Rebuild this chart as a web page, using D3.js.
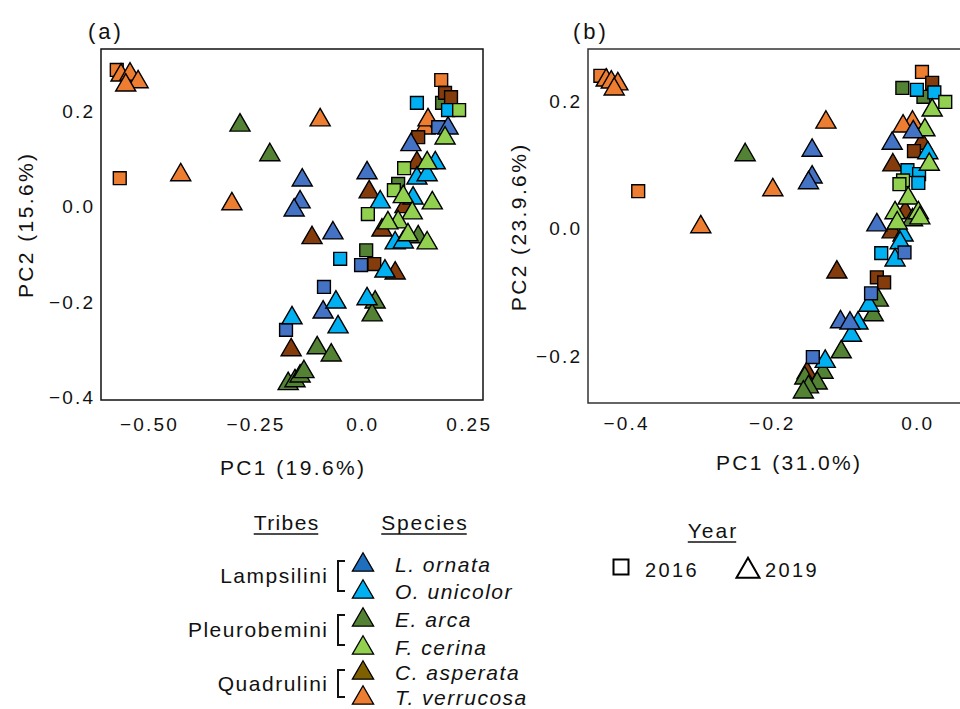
<!DOCTYPE html>
<html>
<head>
<meta charset="utf-8">
<script src="https://cdn.jsdelivr.net/npm/d3@7"></script>
<style>
  body { margin: 0; background: #fff; }
  svg { font-family: "Liberation Sans", Arial, sans-serif; }
</style>
</head>
<body>
<div id="chart"></div>
<script>
// species codes, names and tribes
const speciesCodes = ["LO", "OU", "EA", "FC", "CA", "TV"];
const speciesNames = ["L. ornata", "O. unicolor", "E. arca", "F. cerina", "C. asperata", "T. verrucosa"];
const tribes = ["Lampsilini", "Pleurobemini", "Quadrulini"];
const pointColors = ["#4472C4", "#00B0F0", "#548235", "#92D050", "#843C0C", "#ED7D31"];
const legendColors = ["#1F6FBF", "#00B0F0", "#548235", "#92D050", "#7F6000", "#ED7D31"];
const years = [2016, 2019];

// panel (a): [species, year, PC1, PC2]
const panelA = [
  ["TV",2016,-0.573,0.287],["TV",2019,-0.563,0.276],["TV",2019,-0.542,0.278],["TV",2019,-0.523,0.262],
  ["TV",2019,-0.552,0.255],["TV",2016,-0.566,0.060],["TV",2019,-0.423,0.067],["TV",2019,-0.303,0.006],
  ["TV",2019,-0.096,0.182],["TV",2016,0.188,0.266],["TV",2019,0.150,0.165],["TV",2019,0.157,0.182],
  ["EA",2019,-0.284,0.171],["EA",2019,-0.214,0.109],["EA",2016,0.190,0.218],["EA",2016,0.087,0.048],
  ["EA",2016,0.012,-0.091],["EA",2019,0.134,-0.063],["EA",2019,0.033,-0.200],["EA",2019,0.026,-0.227],
  ["EA",2019,-0.103,-0.296],["EA",2019,-0.070,-0.311],["EA",2019,-0.171,-0.371],["EA",2019,-0.155,-0.365],
  ["EA",2019,-0.143,-0.355],["EA",2019,-0.134,-0.346],
  ["CA",2016,0.197,0.239],["CA",2016,0.211,0.230],["CA",2016,0.134,0.146],["CA",2019,0.131,0.092],
  ["CA",2019,0.019,0.031],["CA",2019,0.103,0.000],["CA",2019,-0.115,-0.065],["CA",2019,0.049,-0.049],
  ["CA",2016,0.031,-0.120],["CA",2019,0.080,-0.139],["CA",2019,-0.164,-0.300],
  ["LO",2016,0.181,0.167],["LO",2019,0.204,0.165],["LO",2019,0.117,0.130],["LO",2019,0.014,0.071],
  ["LO",2019,-0.138,0.056],["LO",2019,-0.143,0.010],["LO",2019,-0.157,-0.007],["LO",2019,-0.066,-0.055],
  ["LO",2016,0.000,-0.122],["LO",2016,-0.087,-0.168],["LO",2019,-0.089,-0.221],["LO",2016,-0.176,-0.258],
  ["OU",2016,0.131,0.218],["OU",2016,0.204,0.203],["OU",2019,0.174,0.092],["OU",2019,0.131,0.060],
  ["OU",2019,0.155,0.067],["OU",2019,0.045,0.010],["OU",2019,0.122,0.018],["OU",2019,0.080,-0.076],
  ["OU",2019,0.099,-0.074],["OU",2016,-0.049,-0.109],["OU",2019,0.056,-0.135],["OU",2019,0.014,-0.193],
  ["OU",2019,-0.059,-0.200],["OU",2019,-0.162,-0.233],["OU",2019,-0.054,-0.252],
  ["FC",2016,0.230,0.203],["FC",2019,0.197,0.144],["FC",2016,0.101,0.081],["FC",2019,0.155,0.092],
  ["FC",2016,0.077,0.035],["FC",2019,0.099,0.021],["FC",2019,0.167,0.008],["FC",2016,0.016,-0.015],
  ["FC",2019,0.120,-0.013],["FC",2019,0.087,-0.032],["FC",2019,0.063,-0.034],["FC",2019,0.110,-0.059],
  ["FC",2019,0.155,-0.076]
];

// panel (b): [species, year, PC1, PC2]
const panelB = [
  ["TV",2016,-0.434,0.240],["TV",2019,-0.426,0.233],["TV",2019,-0.419,0.230],["TV",2019,-0.410,0.227],
  ["TV",2019,-0.415,0.219],["TV",2016,-0.382,0.059],["TV",2019,-0.197,0.061],["TV",2019,-0.296,0.003],
  ["TV",2019,-0.124,0.167],["TV",2016,0.008,0.246],["TV",2019,-0.005,0.167],["TV",2019,-0.018,0.161],
  ["CA",2016,0.022,0.229],["CA",2019,0.008,0.134],["CA",2016,-0.003,0.122],["CA",2019,-0.032,0.100],
  ["CA",2019,-0.015,0.026],["CA",2019,-0.033,-0.005],["CA",2019,-0.109,-0.068],["CA",2016,-0.054,-0.076],
  ["CA",2016,-0.044,-0.084],["CA",2019,-0.150,-0.226],
  ["EA",2016,-0.019,0.221],["EA",2016,0.010,0.207],["EA",2019,-0.235,0.116],["EA",2019,-0.005,0.014],
  ["EA",2019,-0.052,-0.112],["EA",2019,-0.059,-0.135],["EA",2019,-0.103,-0.193],["EA",2019,-0.128,-0.225],
  ["EA",2019,-0.153,-0.234],["EA",2019,-0.136,-0.242],["EA",2019,-0.148,-0.248],["EA",2019,-0.155,-0.256],
  ["OU",2016,0.001,0.218],["OU",2016,0.025,0.214],["OU",2019,0.016,0.119],["OU",2016,-0.012,0.092],
  ["OU",2016,0.004,0.086],["OU",2016,0.003,0.072],["OU",2019,-0.018,-0.010],["OU",2019,-0.022,-0.022],
  ["OU",2016,-0.048,-0.038],["OU",2019,-0.029,-0.049],["OU",2019,-0.065,-0.120],["OU",2019,-0.080,-0.148],
  ["OU",2019,-0.089,-0.167],["OU",2019,-0.125,-0.208],
  ["FC",2016,0.040,0.199],["FC",2019,0.022,0.186],["FC",2019,0.012,0.155],["FC",2019,0.018,0.101],
  ["FC",2016,-0.018,0.076],["FC",2016,-0.023,0.070],["FC",2019,-0.011,0.048],["FC",2019,-0.029,0.025],
  ["FC",2019,0.003,0.025],["FC",2019,0.005,0.017],["FC",2019,-0.026,0.009],
  ["LO",2019,-0.004,0.152],["LO",2019,-0.143,0.123],["LO",2019,-0.033,0.134],["LO",2019,-0.143,0.081],
  ["LO",2019,-0.148,0.072],["LO",2019,-0.054,0.006],["LO",2016,-0.016,-0.037],["LO",2016,-0.062,-0.101],
  ["LO",2019,-0.104,-0.146],["LO",2019,-0.091,-0.148],["LO",2016,-0.142,-0.201]
];

// axis ticks
const ticksAx = [-0.5, -0.25, 0, 0.25];
const ticksAxLabels = ["\u22120.50", "\u22120.25", "0.0", "0.25"];
const ticksAy = [0.2, 0, -0.2, -0.4];
const ticksAyLabels = ["0.2", "0.0", "\u22120.2", "\u22120.4"];
const ticksBx = [-0.4, -0.2, 0];
const ticksBxLabels = ["\u22120.4", "\u22120.2", "0.0"];
const ticksBy = [0.2, 0, -0.2];
const ticksByLabels = ["0.2", "0.0", "\u22120.2"];

const W = 960, H = 709;
const svg = d3.select("#chart").append("svg").attr("width", W).attr("height", H);

const color = d3.scaleOrdinal().domain(speciesCodes).range(pointColors);
const triangle = d3.symbol().type(d3.symbolTriangle).size(175);
const square = d3.symbol().type(d3.symbolSquare).size(165);

const TICK_LS = 2.2, TITLE_LS = 2.4, LEG_LS = 1.5;

function drawPanel(opt) {
  const x = d3.scaleLinear().domain(opt.xDomain).range([opt.left, opt.right]);
  const y = d3.scaleLinear().domain(opt.yDomain).range([opt.bottom, opt.top]);
  const g = svg.append("g");

  const clipId = "clip" + opt.id;
  g.append("clipPath").attr("id", clipId)
    .append("rect")
    .attr("x", opt.left).attr("y", opt.top)
    .attr("width", opt.right - opt.left).attr("height", opt.bottom - opt.top);

  const pts = g.append("g").attr("clip-path", `url(#${clipId})`);
  pts.selectAll("path")
    .data(opt.data)
    .join("path")
    .attr("transform", d => `translate(${x(d[2])},${y(d[3])})`)
    .attr("d", d => d[1] === 2016 ? square() : triangle())
    .attr("fill", d => color(d[0]))
    .attr("stroke", "#000")
    .attr("stroke-width", 1.4);

  // frame
  if (opt.fullBox) {
    g.append("rect")
      .attr("x", opt.left).attr("y", opt.top)
      .attr("width", opt.right - opt.left).attr("height", opt.bottom - opt.top)
      .attr("fill", "none").attr("stroke", "#111").attr("stroke-width", 1.5);
  } else {
    g.append("path")
      .attr("d", `M${opt.right},${opt.top}H${opt.left}V${opt.bottom}H${opt.right}`)
      .attr("fill", "none").attr("stroke", "#333").attr("stroke-width", 1.5);
  }

  const xAxis = d3.axisBottom(x).tickValues(opt.xTicks)
    .tickFormat((d, i) => opt.xLabels[i]).tickSize(0).tickPadding(opt.xPad);
  g.append("g").attr("transform", `translate(0,${opt.bottom})`).call(xAxis)
    .call(s => s.select(".domain").remove())
    .selectAll("text").attr("font-size", 19).attr("fill", "#111").attr("font-family", null)
    .attr("letter-spacing", TICK_LS).attr("dx", TICK_LS / 2);

  const yAxis = d3.axisLeft(y).tickValues(opt.yTicks)
    .tickFormat((d, i) => opt.yLabels[i]).tickSize(0).tickPadding(8);
  g.append("g").attr("transform", `translate(${opt.left},0)`).call(yAxis)
    .call(s => s.select(".domain").remove())
    .selectAll("text").attr("font-size", 19).attr("fill", "#111").attr("font-family", null)
    .attr("letter-spacing", TICK_LS).attr("dx", TICK_LS);

  g.append("text")
    .attr("x", opt.xTitlePos[0] + TITLE_LS / 2).attr("y", opt.xTitlePos[1])
    .attr("text-anchor", "middle").attr("font-size", 21).attr("fill", "#111")
    .attr("letter-spacing", TITLE_LS)
    .text(opt.xTitle);
  g.append("text")
    .attr("transform", `translate(${opt.yTitlePos[0]},${opt.yTitlePos[1] - TITLE_LS / 2}) rotate(-90)`)
    .attr("text-anchor", "middle").attr("dominant-baseline", "middle")
    .attr("font-size", 21).attr("fill", "#111").attr("letter-spacing", TITLE_LS)
    .text(opt.yTitle);
  g.append("text")
    .attr("x", opt.labelPos[0]).attr("y", opt.labelPos[1])
    .attr("font-size", 22).attr("fill", "#111").attr("letter-spacing", 3)
    .text(opt.label);
}

drawPanel({
  id: "a", data: panelA, fullBox: true,
  left: 101, right: 483, top: 49, bottom: 400,
  xDomain: [-0.610, 0.286], yDomain: [-0.405, 0.331],
  xTicks: ticksAx, xLabels: ticksAxLabels, yTicks: ticksAy, yLabels: ticksAyLabels,
  xPad: 18, xTitle: "PC1 (19.6%)", xTitlePos: [292, 475],
  yTitle: "PC2 (15.6%)", yTitlePos: [27, 226],
  label: "(a)", labelPos: [88, 39]
});

drawPanel({
  id: "b", data: panelB, fullBox: false,
  left: 588, right: 962, top: 49, bottom: 403,
  xDomain: [-0.451, 0.063], yDomain: [-0.273, 0.282],
  xTicks: ticksBx, xLabels: ticksBxLabels, yTicks: ticksBy, yLabels: ticksByLabels,
  xPad: 14, xTitle: "PC1 (31.0%)", xTitlePos: [788, 470],
  yTitle: "PC2 (23.9.6%)", yTitlePos: [520, 228],
  label: "(b)", labelPos: [573, 39]
});

// ---- legend: tribes / species ----
const leg = svg.append("g");
function header(txt, cx, cy, ls) {
  const t = leg.append("text").attr("x", cx + ls / 2).attr("y", cy)
    .attr("text-anchor", "middle").attr("font-size", 21).attr("fill", "#111")
    .attr("letter-spacing", ls).text(txt);
  const w = t.node().getComputedTextLength() - ls;
  leg.append("line").attr("x1", cx - w / 2).attr("x2", cx + w / 2)
    .attr("y1", cy + 4).attr("y2", cy + 4).attr("stroke", "#111").attr("stroke-width", 1.5);
}
header("Tribes", 286, 530, 1.4);
header("Species", 424, 530, 1.8);
header("Year", 712, 538, 2);

const rowY = [565, 592, 620, 648, 673, 698];
const legTri = d3.symbol().type(d3.symbolTriangle).size(195);
speciesNames.forEach((name, i) => {
  leg.append("path")
    .attr("transform", `translate(${363},${rowY[i]})`)
    .attr("d", legTri())
    .attr("fill", legendColors[i]).attr("stroke", "#000").attr("stroke-width", 1.3);
  leg.append("text")
    .attr("x", 395).attr("y", rowY[i] + 7)
    .attr("font-size", 21).attr("font-style", "italic").attr("fill", "#111")
    .attr("letter-spacing", LEG_LS)
    .text(name);
});

const bracketY = [[561, 591], [615, 645], [670, 697]];
tribes.forEach((t, i) => {
  const [y0, y1] = bracketY[i];
  leg.append("text")
    .attr("x", 327 + LEG_LS).attr("y", (y0 + y1) / 2 + 7)
    .attr("text-anchor", "end").attr("font-size", 21).attr("fill", "#111")
    .attr("letter-spacing", LEG_LS)
    .text(t);
  leg.append("path")
    .attr("d", `M345,${y0}H338V${y1}H345`)
    .attr("fill", "none").attr("stroke", "#111").attr("stroke-width", 2);
});

// ---- legend: year ----
const yearMarkX = [621, 748];
const yearTextX = [645, 765];
years.forEach((yr, i) => {
  leg.append("path")
    .attr("transform", `translate(${yearMarkX[i]},${i === 0 ? 567 : 571})`)
    .attr("d", i === 0 ? d3.symbol().type(d3.symbolSquare).size(225)() : d3.symbol().type(d3.symbolTriangle).size(230)())
    .attr("fill", "none").attr("stroke", "#000").attr("stroke-width", 2);
  leg.append("text")
    .attr("x", yearTextX[i]).attr("y", 577)
    .attr("font-size", 20).attr("fill", "#111").attr("letter-spacing", 2.4)
    .text(yr);
});
</script>
</body>
</html>
